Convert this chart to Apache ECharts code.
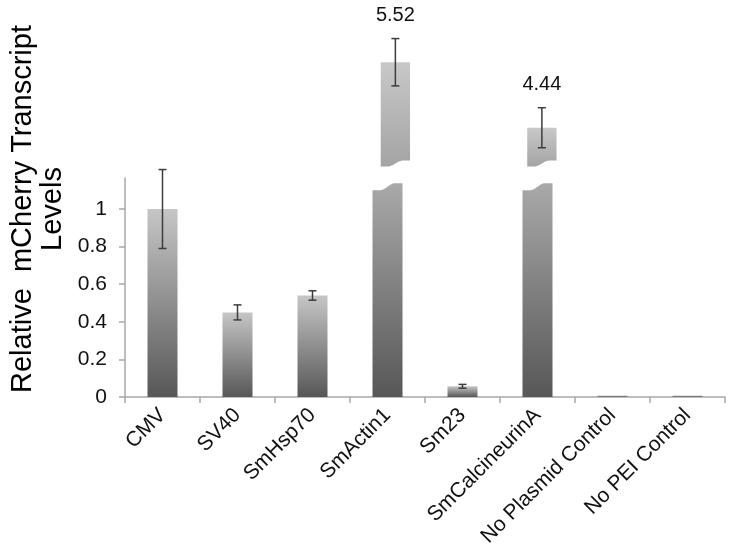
<!DOCTYPE html>
<html><head><meta charset="utf-8">
<script src="https://cdn.jsdelivr.net/npm/echarts@6/dist/echarts.min.js"></script>
<style>html,body{margin:0;padding:0;background:#fff}#c{width:735px;height:559px}</style>
</head><body><div id="c"></div>
<script>
const categories = ['CMV', 'SV40', 'SmHsp70', 'SmActin1', 'Sm23', 'SmCalcineurinA', 'No Plasmid Control', 'No PEI Control'];
const values = [1.00, 0.45, 0.54, 5.52, 0.057, 4.44, 0.008, 0.008];
const errors = [0.21, 0.04, 0.025, 0.39, 0.01, 0.33, 0, 0];
const valueLabels = ['', '', '', '5.52', '', '4.44', '', ''];
const yTicks = [0, 0.2, 0.4, 0.6, 0.8, 1];

// axis break settings
const lowerMax = 1.165;   // top of the visible lower axis
const lowerCut = 1.1;     // where broken bars are cut on the lower scale
const upperCut = 3.8;     // where broken bars resume on the upper scale
const upperMax = 6.2;

const FONT = '"Liberation Sans", Arial, sans-serif';
const AXIS_COLOR = '#a8a8a8';

const lowerData = values.map((v, i) => [i, v, errors[i]]);
const upperData = values.map((v, i) => [i, v, errors[i], valueLabels[i]]).filter(d => d[1] > lowerMax);

function wave(x0, x1, yBase, amp, reverse) {
  const pts = [];
  const n = 24;
  for (let k = 0; k <= n; k++) {
    const t = k / n;
    let s = (t - 0.25) / 0.5;
    s = Math.max(0, Math.min(1, s));
    s = s * s * (3 - 2 * s);
    pts.push([x0 + t * (x1 - x0), yBase - amp * s]);
  }
  return reverse ? pts.reverse() : pts;
}

function grad(top, bottom) {
  return new echarts.graphic.LinearGradient(0, 0, 0, 1, [
    { offset: 0, color: top }, { offset: 1, color: bottom }
  ]);
}

function errorBar(api, i, v, e, children) {
  if (!e) return null;
  const cx = api.coord([i, v])[0];
  const yT = api.coord([i, v + e])[1];
  const yB = api.coord([i, v - e])[1];
  const st = { stroke: '#3c3c3c', lineWidth: 1.5 };
  children.push({ type: 'line', shape: { x1: cx, y1: yT, x2: cx, y2: yB }, style: st });
  children.push({ type: 'line', shape: { x1: cx - 4, y1: yT, x2: cx + 4, y2: yT }, style: st });
  children.push({ type: 'line', shape: { x1: cx - 4, y1: yB, x2: cx + 4, y2: yB }, style: st });
  return yT;
}

function renderLower(params, api) {
  const i = api.value(0), v = api.value(1), e = api.value(2);
  const bw = api.size([1, 0])[0] * 0.4;
  const cx = api.coord([i, 0])[0];
  const y0 = api.coord([i, 0])[1];
  const x0 = cx - bw / 2, x1 = cx + bw / 2;
  const children = [];
  if (v > lowerMax) {
    const yc = api.coord([i, lowerCut])[1];
    const pts = [[x0, y0]].concat(wave(x0, x1, yc, 7, false)).concat([[x1, y0]]);
    children.push({ type: 'polygon', shape: { points: pts }, style: { fill: grad('#a9a9a9', '#575757') } });
  } else {
    const yv = api.coord([i, v])[1];
    children.push({ type: 'rect', shape: { x: x0, y: yv, width: bw, height: Math.max(y0 - yv, 0.6) },
      style: { fill: grad('#c6c6c6', '#575757') } });
    errorBar(api, i, v, e, children);
  }
  return { type: 'group', children };
}

function renderUpper(params, api) {
  const i = api.value(0), v = api.value(1), e = api.value(2);
  const label = valueLabels[i];
  const bw = api.size([1, 0])[0] * 0.4;
  const cx = api.coord([i, v])[0];
  const yv = api.coord([i, v])[1];
  const yc = api.coord([i, upperCut])[1];
  const x0 = cx - bw / 2, x1 = cx + bw / 2;
  const children = [];
  const pts = [[x0, yv], [x1, yv]].concat(wave(x0, x1, yc, 6, true));
  children.push({ type: 'polygon', shape: { points: pts }, style: { fill: grad('#c8c8c8', '#a4a4a4') } });
  const yT = errorBar(api, i, v, e, children);
  children.push({ type: 'text', x: cx, y: (yT == null ? yv : yT) - 13,
    style: { text: label, fill: '#111', font: '20px ' + FONT, align: 'center', verticalAlign: 'bottom' } });
  return { type: 'group', children };
}

const chart = echarts.init(document.getElementById('c'), null, { renderer: 'canvas' });
chart.setOption({
  animation: false,
  backgroundColor: '#fff',
  grid: [
    { left: 125, right: 10, top: 178, bottom: 162 },
    { left: 125, right: 10, top: 21, bottom: 162 }
  ],
  xAxis: [
    {
      type: 'category', gridIndex: 0, data: categories, boundaryGap: true,
      axisLine: { lineStyle: { color: AXIS_COLOR, width: 1.5 } },
      axisTick: { show: true, length: 6, lineStyle: { color: AXIS_COLOR, width: 1.5 } },
      axisLabel: { interval: 0, rotate: 45, margin: 15, color: '#111', fontSize: 21, fontFamily: FONT }
    },
    { type: 'category', gridIndex: 1, data: categories, boundaryGap: true, show: false }
  ],
  yAxis: [
    {
      type: 'value', gridIndex: 0, min: 0, max: lowerMax, interval: 0.2,
      axisLine: { show: true, lineStyle: { color: AXIS_COLOR, width: 1.5 } },
      axisTick: { show: true, length: 6, customValues: yTicks, lineStyle: { color: AXIS_COLOR, width: 1.5 } },
      axisLabel: { customValues: yTicks, margin: 18, color: '#111', fontSize: 21, fontFamily: FONT,
        formatter: v => String(Math.round(v * 10) / 10) },
      splitLine: { show: false }
    },
    {
      type: 'value', gridIndex: 1, min: 0, max: upperMax,
      axisLine: { show: false }, axisTick: { show: false }, axisLabel: { show: false }, splitLine: { show: false },
      name: 'Relative  mCherry Transcript\nLevels', nameLocation: 'middle', nameGap: 71,
      nameTextStyle: { fontSize: 29, lineHeight: 30, color: '#000', fontFamily: FONT }
    }
  ],
  series: [
    { type: 'custom', xAxisIndex: 0, yAxisIndex: 0, renderItem: renderLower, data: lowerData, encode: { x: 0, y: 1 } },
    { type: 'custom', xAxisIndex: 1, yAxisIndex: 1, renderItem: renderUpper, data: upperData, encode: { x: 0, y: 1 } }
  ]
});
</script>
</body></html>
